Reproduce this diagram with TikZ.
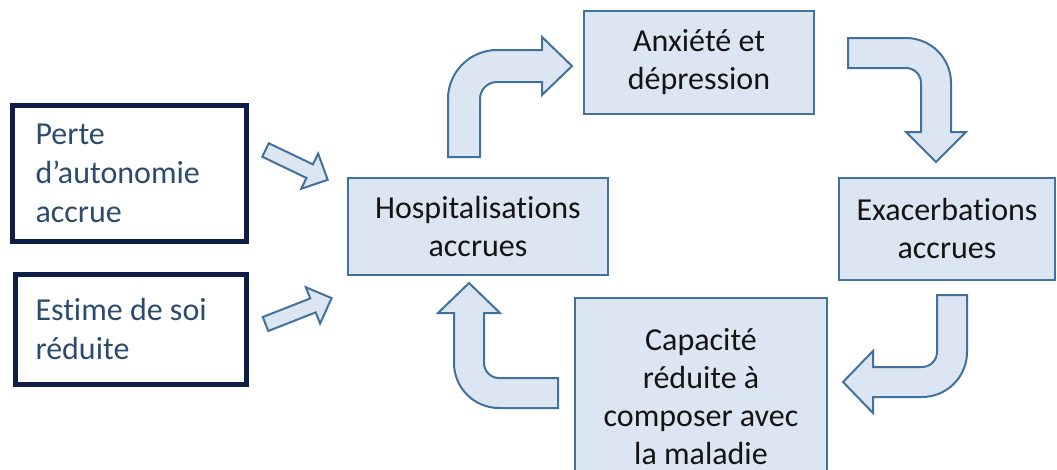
\documentclass[tikz,border=0pt]{standalone}
\usepackage{fontspec}
\setmainfont{Carlito}[Ligatures=NoCommon]
\definecolor{boxfill}{RGB}{220,230,242}
\definecolor{boxline}{RGB}{65,113,156}
\definecolor{navy}{RGB}{14,30,70}
\definecolor{slate}{RGB}{44,76,110}
\tikzset{
  lightbox/.style={draw=boxline, fill=boxfill, line width=2, align=center,
    inner sep=0, font=\fontsize{32}{38}\selectfont, text=black!92},
  framebox/.style={draw=navy, line width=5, align=flush left, inner ysep=0,
    font=\fontsize{32}{39}\selectfont, text=slate},
  blockarrow/.style={draw=boxline, fill=boxfill, line width=2, line join=miter}
}
\begin{document}
\begin{tikzpicture}[x=1pt,y=-1pt]
\clip (0,0) rectangle (1057,469);
\fill[white] (0,0) rectangle (1057,469);

% cycle boxes
\node[lightbox, minimum width=230, minimum height=103] (anx) at (699,62.5) {Anxiété et\\dépression};
\node[lightbox, minimum width=260, minimum height=97] (hosp) at (478,226.5) {Hospitalisations\\accrues};
\node[lightbox, minimum width=216, minimum height=102] (exa) at (947,229) {Exacerbations\\accrues};
\node[lightbox, minimum width=252, minimum height=198] (cap) at (701,397) {Capacité\\réduite à\\composer avec\\la maladie};

% contributing factors
\node[framebox, minimum width=234, minimum height=136, inner xsep=23, text width=188] (perte) at (129.5,173.5) {Perte\\d’autonomie\\accrue};
\node[framebox, minimum width=231, minimum height=110, inner xsep=20, text width=191] (estime) at (131,329.5) {Estime de soi\\réduite};

% bent arrows of the cycle
\draw[blockarrow] (448,157) -- (448,99) arc[start angle=180,end angle=270,radius=49]
  -- (542,50) -- (542,37) -- (572,66) -- (542,95) -- (542,82) -- (497,82)
  arc[start angle=270,end angle=180,radius=17] -- (480,157) -- cycle;
\draw[blockarrow] (848,38) -- (906,38) arc[start angle=270,end angle=360,radius=45]
  -- (951,132) -- (966,132) -- (936,162) -- (906,132) -- (921,132) -- (921,83)
  arc[start angle=0,end angle=-90,radius=15] -- (848,68) -- cycle;
\draw[blockarrow] (937,295) -- (967,295) -- (967,352) arc[start angle=0,end angle=90,radius=45]
  -- (873,397) -- (873,413) -- (843,382) -- (873,351) -- (873,367) -- (922,367)
  arc[start angle=90,end angle=0,radius=15] -- cycle;
\draw[blockarrow] (558,378) -- (499,378) arc[start angle=90,end angle=180,radius=15]
  -- (484,313) -- (500,313) -- (469,283) -- (438,313) -- (454,313) -- (454,363)
  arc[start angle=180,end angle=90,radius=45] -- (558,408) -- cycle;

% straight arrows from the factors
\begin{scope}[shift={(265.5,150)}, rotate=-25.6]
  \draw[blockarrow] (0,-7.5) -- (49,-7.5) -- (49,-19.5) -- (69,0) -- (49,19.5) -- (49,7.5) -- (0,7.5) -- cycle;
\end{scope}
\begin{scope}[shift={(265.5,324)}, rotate=21.4]
  \draw[blockarrow] (0,-7.5) -- (51,-7.5) -- (51,-19.5) -- (71,0) -- (51,19.5) -- (51,7.5) -- (0,7.5) -- cycle;
\end{scope}
\end{tikzpicture}
\end{document}
